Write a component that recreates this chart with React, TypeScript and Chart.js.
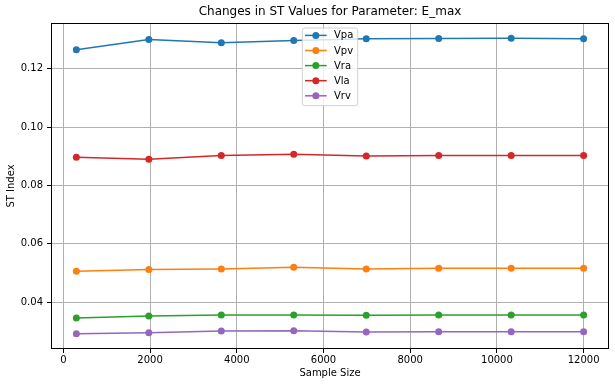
import React, { useEffect, useRef } from 'react';
import { Chart, registerables } from 'chart.js';

Chart.register(...registerables);

const TITLE = 'Changes in ST Values for Parameter: E_max';
const X_LABEL = 'Sample Size';
const Y_LABEL = 'ST Index';

const sampleSizes = [300, 1971, 3643, 5314, 6986, 8657, 10329, 12000];
const seriesNames = ['Vpa', 'Vpv', 'Vra', 'Vla', 'Vrv'];
const seriesColors = ['#1f77b4', '#ff7f0e', '#2ca02c', '#d62728', '#9467bd'];
const vpa = [0.1265, 0.13, 0.1289, 0.1297, 0.1303, 0.1304, 0.1305, 0.1303];
const vpv = [0.0506, 0.0512, 0.0513, 0.0519, 0.0513, 0.0516, 0.0516, 0.0516];
const vra = [0.0345, 0.0352, 0.0356, 0.0356, 0.0355, 0.0356, 0.0356, 0.0356];
const vla = [0.0897, 0.089, 0.0903, 0.0907, 0.0901, 0.0903, 0.0903, 0.0903];
const vrv = [0.0291, 0.0295, 0.0301, 0.0302, 0.0297, 0.0298, 0.0298, 0.0298];
const seriesValues = [vpa, vpv, vra, vla, vrv];

const xTicks = [0, 2000, 4000, 6000, 8000, 10000, 12000];
const yTicks = [0.04, 0.06, 0.08, 0.1, 0.12];
const X_MIN = -285;
const X_MAX = 12585;
const Y_MIN = 0.0239;
const Y_MAX = 0.1357;

const FONT = '"DejaVu Sans", sans-serif';

const overlayPlugin = {
  id: 'mplOverlay',
  afterDatasetsDraw(chart: any) {
    const { ctx, chartArea } = chart;
    const { left, right, top, bottom } = chartArea;
    ctx.save();
    // spines
    ctx.strokeStyle = '#000000';
    ctx.lineWidth = 1;
    ctx.strokeRect(Math.round(left) + 0.5, Math.round(top) + 0.5, Math.round(right - left) - 1, Math.round(bottom - top) - 1);

    // legend
    ctx.font = `10px ${FONT}`;
    const lineLen = 21.7;
    const padL = 2.7;
    const gap = 7.3;
    const padR = 4.4;
    const rowH = 15.1;
    let maxW = 0;
    seriesNames.forEach((n) => {
      maxW = Math.max(maxW, ctx.measureText(n).width);
    });
    const boxW = padL + lineLen + gap + maxW + padR;
    const boxH = 77.7;
    const boxX = (left + right) / 2 - boxW / 2;
    const boxY = top + 5;
    const r = 2.5;
    ctx.beginPath();
    ctx.moveTo(boxX + r, boxY);
    ctx.lineTo(boxX + boxW - r, boxY);
    ctx.quadraticCurveTo(boxX + boxW, boxY, boxX + boxW, boxY + r);
    ctx.lineTo(boxX + boxW, boxY + boxH - r);
    ctx.quadraticCurveTo(boxX + boxW, boxY + boxH, boxX + boxW - r, boxY + boxH);
    ctx.lineTo(boxX + r, boxY + boxH);
    ctx.quadraticCurveTo(boxX, boxY + boxH, boxX, boxY + boxH - r);
    ctx.lineTo(boxX, boxY + r);
    ctx.quadraticCurveTo(boxX, boxY, boxX + r, boxY);
    ctx.closePath();
    ctx.fillStyle = 'rgba(255,255,255,0.8)';
    ctx.fill();
    ctx.strokeStyle = 'rgba(204,204,204,0.9)';
    ctx.lineWidth = 1;
    ctx.stroke();

    seriesNames.forEach((name, i) => {
      const cy = boxY + 7.4 + i * rowH;
      const lx = boxX + padL;
      ctx.strokeStyle = seriesColors[i];
      ctx.lineWidth = 1.5;
      ctx.beginPath();
      ctx.moveTo(lx, cy);
      ctx.lineTo(lx + lineLen, cy);
      ctx.stroke();
      ctx.fillStyle = seriesColors[i];
      ctx.beginPath();
      ctx.arc(lx + lineLen / 2, cy, 3.5, 0, Math.PI * 2);
      ctx.fill();
      ctx.fillStyle = '#000000';
      ctx.textBaseline = 'middle';
      ctx.textAlign = 'left';
      ctx.fillText(name, lx + lineLen + gap, cy + 0.5);
    });

    // title
    ctx.font = `12px ${FONT}`;
    ctx.fillStyle = '#000000';
    ctx.textAlign = 'center';
    ctx.textBaseline = 'middle';
    ctx.fillText(TITLE, (left + right) / 2, 12);
    ctx.restore();
  },
};

export default function App() {
  const canvasRef = useRef<HTMLCanvasElement | null>(null);

  useEffect(() => {
    document.body.style.margin = '0';
    const canvas = canvasRef.current;
    if (!canvas) return;
    const chart = new Chart(canvas, {
      type: 'line',
      data: {
        datasets: seriesNames.map((name, i) => ({
          label: name,
          data: sampleSizes.map((x, j) => ({ x, y: seriesValues[i][j] })),
          borderColor: seriesColors[i],
          backgroundColor: seriesColors[i],
          pointBackgroundColor: seriesColors[i],
          pointBorderColor: seriesColors[i],
          pointBorderWidth: 0,
          pointRadius: 3.5,
          borderWidth: 1.5,
          tension: 0,
          fill: false,
        })),
      },
      options: {
        animation: false,
        responsive: false,
        devicePixelRatio: 1,
        layout: { padding: { top: 23, right: 6, left: 0, bottom: 0 } },
        plugins: {
          legend: { display: false },
          title: { display: false },
          tooltip: { enabled: false },
        },
        scales: {
          x: {
            type: 'linear',
            min: X_MIN,
            max: X_MAX,
            afterBuildTicks: (scale: any) => {
              scale.ticks = xTicks.map((v) => ({ value: v }));
            },
            afterFit: (scale: any) => {
              scale.height = 38;
            },
            grid: {
              color: '#b0b0b0',
              lineWidth: 1,
              drawTicks: true,
              tickLength: 4,
              tickColor: '#000000',
            },
            border: { display: false },
            ticks: {
              color: '#000000',
              font: { family: FONT, size: 10 },
              padding: 1,
              maxRotation: 0,
              callback: (v: any) => String(v),
            },
            title: {
              display: true,
              text: X_LABEL,
              color: '#000000',
              font: { family: FONT, size: 10 },
              padding: { top: 0, bottom: 7.5 },
            },
          },
          y: {
            type: 'linear',
            min: Y_MIN,
            max: Y_MAX,
            afterBuildTicks: (scale: any) => {
              scale.ticks = yTicks.map((v) => ({ value: v }));
            },
            afterFit: (scale: any) => {
              scale.width = 51;
            },
            grid: {
              color: '#b0b0b0',
              lineWidth: 1,
              drawTicks: true,
              tickLength: 4,
              tickColor: '#000000',
            },
            border: { display: false },
            ticks: {
              color: '#000000',
              font: { family: FONT, size: 10 },
              padding: 4,
              callback: (v: any) => Number(v).toFixed(2),
            },
            title: {
              display: true,
              text: Y_LABEL,
              color: '#000000',
              font: { family: FONT, size: 10 },
              padding: { top: 5.7, bottom: 0 },
            },
          },
        },
      },
      plugins: [overlayPlugin],
    });
    return () => chart.destroy();
  }, []);

  return (
    <div style={{ width: 615, height: 387 }}>
      <canvas ref={canvasRef} width={615} height={387} style={{ display: 'block' }} />
    </div>
  );
}
